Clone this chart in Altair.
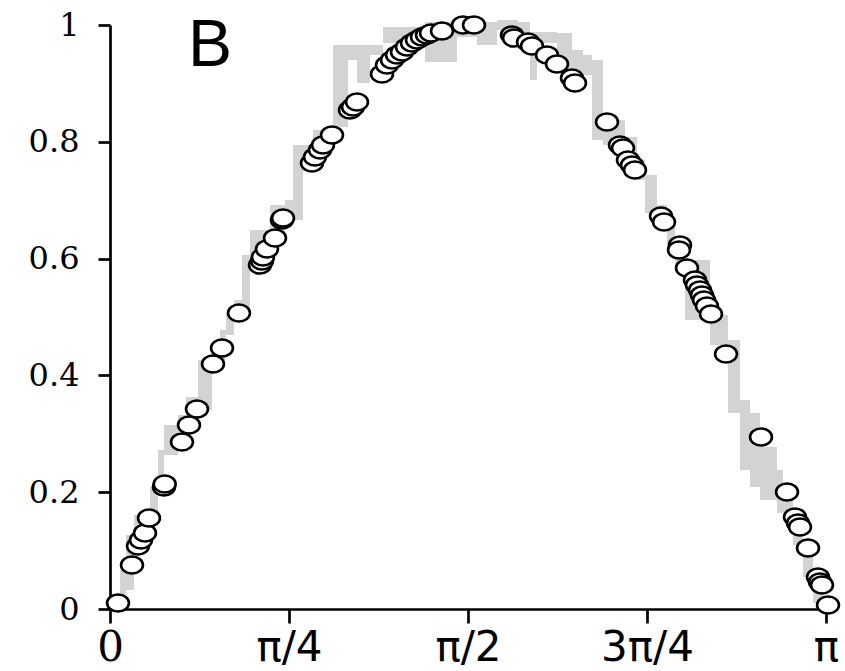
import math
import altair as alt
import pandas as pd

# ---- data ----
pt_x = [0.0351, 0.0965, 0.1229, 0.1360, 0.1536, 0.1711, 0.2369, 0.2400, 0.3159, 0.3466,
        0.3817, 0.4519, 0.4914, 0.5660, 0.6582, 0.6669, 0.6713, 0.6889, 0.7240, 0.7547,
        0.7591, 0.8863, 0.8995, 0.9214, 0.9346, 0.9741, 1.0530, 1.0662, 1.0838, 1.1935,
        1.2154, 1.2373, 1.2593, 1.2812, 1.3031, 1.3251, 1.3470, 1.3690, 1.3909, 1.4085,
        1.4567, 1.5489, 1.5971, 1.7639, 1.7726, 1.8341, 1.8516, 1.9174, 1.9613, 2.0271,
        2.0403, 2.1807, 2.2377, 2.2509, 2.2728, 2.2904, 2.3035, 2.4176, 2.4308, 2.5010,
        2.4966, 2.5317, 2.5668, 2.5756, 2.5887, 2.5975, 2.6063, 2.6195, 2.6370, 2.7029,
        2.8564, 2.9705, 3.0056, 3.0187, 3.0275, 3.0626, 3.1065, 3.1153, 3.1240, 3.1504]
pt_y = [0.0103, 0.0753, 0.1079, 0.1182, 0.1301, 0.1558, 0.2089, 0.2140, 0.2860, 0.3151,
        0.3425, 0.4195, 0.4469, 0.5068, 0.5890, 0.5959, 0.6027, 0.6164, 0.6353, 0.6661,
        0.6695, 0.7637, 0.7740, 0.7860, 0.7945, 0.8116, 0.8545, 0.8596, 0.8682, 0.9161,
        0.9315, 0.9401, 0.9486, 0.9538, 0.9623, 0.9692, 0.9743, 0.9795, 0.9829, 0.9863,
        0.9897, 1.0000, 1.0000, 0.9829, 0.9777, 0.9709, 0.9640, 0.9486, 0.9332, 0.9092,
        0.9007, 0.8339, 0.7945, 0.7894, 0.7688, 0.7603, 0.7517, 0.6729, 0.6627, 0.6233,
        0.6147, 0.5839, 0.5634, 0.5548, 0.5462, 0.5377, 0.5291, 0.5188, 0.5051, 0.4366,
        0.2945, 0.2003, 0.1575, 0.1473, 0.1404, 0.1045, 0.0548, 0.0462, 0.0411, 0.0068]

band_x = [0.0439, 0.0702, 0.1053, 0.1755, 0.2106, 0.2369, 0.2984, 0.3335, 0.3861, 0.4475,
          0.4826, 0.5090, 0.5441, 0.5792, 0.6143, 0.7020, 0.7678, 0.8030, 0.8468, 0.8907,
          0.9785, 1.0443, 1.0838, 1.1408, 1.1978, 1.3031, 1.3821, 1.5225, 1.6103, 1.6980,
          1.7902, 1.8428, 1.8735, 1.9613, 2.0271, 2.0754, 2.1149, 2.1631, 2.2597, 2.3123,
          2.3474, 2.4001, 2.4440, 2.4790, 2.5229, 2.6326, 2.7116, 2.7643, 2.8081, 2.8520,
          2.9266, 2.9529, 2.9968, 3.0407, 3.0846, 3.1285, 3.1416]
band_lo = [0.000, 0.0325, 0.1096, 0.1524, 0.2038, 0.2637, 0.3031, 0.3116, 0.3408, 0.4178,
           0.4264, 0.4692, 0.4949, 0.5171, 0.5942, 0.6318, 0.6747, 0.6661, 0.7740, 0.7860,
           0.8253, 0.9401, 0.9007, 0.9486, 0.9692, 0.9777, 0.9366, 0.9795, 0.9658, 0.9914,
           0.9623, 0.9058, 0.9692, 0.9195, 0.9195, 0.9144, 0.8031, 0.7945, 0.7466, 0.7346,
           0.6781, 0.6575, 0.6199, 0.5890, 0.4949, 0.4521, 0.3356, 0.2380, 0.2089, 0.1866,
           0.1644, 0.1644, 0.1096, 0.0548, 0.0103, 0.0000, 0.0000]
band_hi = [0.0668, 0.1267, 0.1610, 0.2089, 0.2723, 0.3151, 0.3322, 0.3630, 0.4264, 0.4521,
           0.4777, 0.5068, 0.5291, 0.6062, 0.6490, 0.6918, 0.7003, 0.7945, 0.7945, 0.8202,
           0.9658, 0.9658, 0.9658, 0.9658, 0.9966, 0.9966, 1.0051, 1.0051, 1.0051, 1.0086,
           1.0051, 0.9880, 0.9880, 0.9863, 0.9572, 0.9486, 0.9401, 0.8373, 0.8082, 0.7688,
           0.7432, 0.6918, 0.6575, 0.6318, 0.5976, 0.5034, 0.4606, 0.3579, 0.3356, 0.2774,
           0.2380, 0.1986, 0.1695, 0.1062, 0.0548, 0.0154, 0.0154]

x_tick_values = [0, math.pi / 4, math.pi / 2, 3 * math.pi / 4, math.pi]
x_tick_labels = ["0", "π/4", "π/2", "3π/4", "π"]
y_tick_values = [0, 0.2, 0.4, 0.6, 0.8, 1.0]
y_tick_labels = ["0", "0.2", "0.4", "0.6", "0.8", "1"]
panel_label = "B"

pts = pd.DataFrame({"x": pt_x, "y": pt_y})
band = pd.DataFrame({"x": band_x, "lo": band_lo, "hi": band_hi})


def label_expr(values, labels):
    expr = "''"
    for v, l in reversed(list(zip(values, labels))):
        expr = f"abs(datum.value - {v}) < 1e-6 ? '{l}' : " + expr
    return expr


x_scale = alt.Scale(domain=[0, math.pi], nice=False, zero=False)
y_scale = alt.Scale(domain=[0, 1], nice=False)

x_axis = alt.Axis(
    values=x_tick_values, labelExpr=label_expr(x_tick_values, x_tick_labels),
    grid=False, title=None, domainColor="black", domainWidth=2.7,
    tickColor="black", tickWidth=2.7, tickSize=14, labelPadding=4,
    labelFont={"condition": {"test": "datum.value == 0", "value": "DejaVu Serif"},
               "value": "DejaVu Sans"},
    labelFontSize=42, labelColor="black", labelFlush=False, labelOverlap=False,
)
y_axis = alt.Axis(
    values=y_tick_values, labelExpr=label_expr(y_tick_values, y_tick_labels),
    grid=False, title=None, domainColor="black", domainWidth=2.7,
    tickColor="black", tickWidth=2.7, tickSize=12, labelPadding=19,
    labelFont="DejaVu Serif", labelFontSize=32, labelColor="black",
    labelFlush=False, labelOverlap=False,
)

band_layer = alt.Chart(band).mark_area(
    interpolate="step-after", color="#d3d3d3", opacity=1
).encode(
    x=alt.X("x:Q", scale=x_scale, axis=x_axis),
    y=alt.Y("lo:Q", scale=y_scale, axis=y_axis),
    y2="hi:Q",
)

ellipse = ("M-1,0 C-1,-0.43 -0.552,-0.78 0,-0.78 C0.552,-0.78 1,-0.43 1,0 "
           "C1,0.43 0.552,0.78 0,0.78 C-0.552,0.78 -1,0.43 -1,0 Z")

point_layer = alt.Chart(pts).mark_point(
    shape=ellipse, size=480, filled=False, fill="white", fillOpacity=1,
    stroke="black", strokeWidth=2.6, opacity=1, clip=False,
).encode(
    x=alt.X("x:Q", scale=x_scale),
    y=alt.Y("y:Q", scale=y_scale),
)

label_layer = alt.Chart(pd.DataFrame({"t": [panel_label]})).mark_text(
    font="Liberation Sans", fontSize=66, color="black", align="left",
    baseline="alphabetic",
).encode(x=alt.value(78), y=alt.value(41), text="t:N")

chart = alt.layer(band_layer, point_layer, label_layer).properties(
    width=716, height=584,
    autosize=alt.AutoSizeParams(type="none"),
    padding={"left": 110, "top": 25, "right": 19, "bottom": 62},
    background="white",
).configure_view(stroke=None)

chart.save("out.html", embed_options={"renderer": "svg", "actions": False})
